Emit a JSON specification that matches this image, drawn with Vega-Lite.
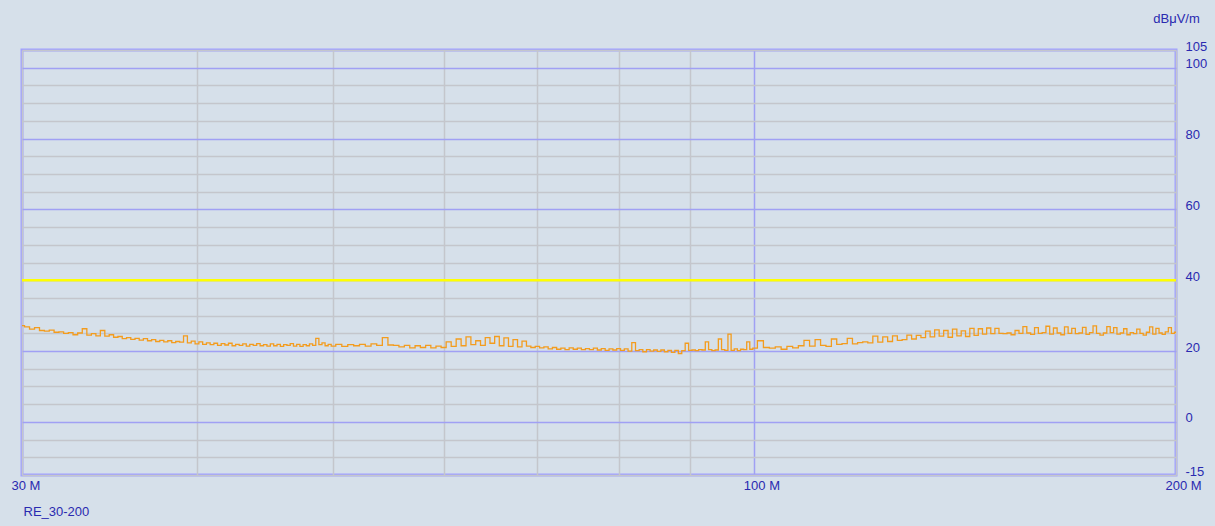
{
  "$schema": "https://vega.github.io/schema/vega-lite/v6.json",
  "width": 1154,
  "height": 425,
  "autosize": {"type": "none"},
  "padding": {"left": 22, "top": 50, "right": 39, "bottom": 51},
  "background": "#d6e0ea",
  "config": {
    "view": {"stroke": "#a0a0ff", "strokeWidth": 3, "fill": "#d6e0ea"},
    "font": "Liberation Sans"
  },
  "datasets": {
    "trace": [
      {"f":30.00,"v":27.2},{"f":30.25,"v":26.8},{"f":30.50,"v":26.2},{"f":30.75,"v":26.6},{"f":31.00,"v":25.8},{"f":31.25,"v":25.6},{"f":31.50,"v":25.9},{"f":31.75,"v":25.3},{"f":32.00,"v":25.4},{"f":32.25,"v":25.0},{"f":32.50,"v":25.2},{"f":32.75,"v":24.6},{"f":33.00,"v":25.1},{"f":33.25,"v":26.3},{"f":33.50,"v":24.5},{"f":33.75,"v":24.9},{"f":34.00,"v":24.3},{"f":34.25,"v":25.8},{"f":34.50,"v":24.2},{"f":34.75,"v":24.6},{"f":35.00,"v":23.9},{"f":35.25,"v":24.1},{"f":35.50,"v":23.5},{"f":35.75,"v":23.8},{"f":36.00,"v":23.3},{"f":36.25,"v":23.6},{"f":36.50,"v":23.1},{"f":36.75,"v":23.5},{"f":37.00,"v":22.9},{"f":37.25,"v":23.2},{"f":37.50,"v":22.7},{"f":37.75,"v":23.0},{"f":38.00,"v":22.6},{"f":38.25,"v":22.9},{"f":38.50,"v":22.4},{"f":38.75,"v":22.7},{"f":39.00,"v":22.5},{"f":39.25,"v":24.3},{"f":39.50,"v":22.3},{"f":39.75,"v":22.8},{"f":40.00,"v":22.0},{"f":40.25,"v":22.6},{"f":40.50,"v":21.9},{"f":40.75,"v":22.3},{"f":41.00,"v":21.8},{"f":41.25,"v":22.2},{"f":41.50,"v":21.6},{"f":41.75,"v":22.1},{"f":42.00,"v":21.7},{"f":42.25,"v":22.2},{"f":42.50,"v":21.5},{"f":42.75,"v":21.9},{"f":43.00,"v":21.6},{"f":43.25,"v":22.0},{"f":43.50,"v":21.4},{"f":43.75,"v":21.9},{"f":44.00,"v":21.6},{"f":44.25,"v":22.1},{"f":44.50,"v":21.5},{"f":44.75,"v":21.8},{"f":45.00,"v":21.4},{"f":45.25,"v":22.0},{"f":45.50,"v":21.5},{"f":45.75,"v":21.9},{"f":46.00,"v":21.3},{"f":46.25,"v":21.8},{"f":46.50,"v":21.6},{"f":46.75,"v":22.1},{"f":47.00,"v":21.4},{"f":47.25,"v":21.9},{"f":47.50,"v":21.3},{"f":47.75,"v":21.8},{"f":48.00,"v":21.5},{"f":48.25,"v":22.0},{"f":48.50,"v":21.6},{"f":48.75,"v":23.6},{"f":49.00,"v":21.8},{"f":49.25,"v":22.3},{"f":49.50,"v":21.5},{"f":49.75,"v":21.9},{"f":50.00,"v":21.4},
      {"f":50.5,"v":21.9},{"f":51.0,"v":21.3},{"f":51.5,"v":21.8},{"f":52.0,"v":21.5},{"f":52.5,"v":21.9},{"f":53.0,"v":21.4},{"f":53.5,"v":22.0},{"f":54.0,"v":21.6},{"f":54.5,"v":23.8},{"f":55.0,"v":21.7},{"f":55.5,"v":21.6},{"f":56.0,"v":21.2},{"f":56.5,"v":21.6},{"f":57.0,"v":20.9},{"f":57.5,"v":21.5},{"f":58.0,"v":21.0},{"f":58.5,"v":21.6},{"f":59.0,"v":20.9},{"f":59.5,"v":21.4},{"f":60.0,"v":21.0},{"f":60.5,"v":22.6},{"f":61.0,"v":21.3},{"f":61.5,"v":23.4},{"f":62.0,"v":21.5},{"f":62.5,"v":24.0},{"f":63.0,"v":21.8},{"f":63.5,"v":22.9},{"f":64.0,"v":21.6},{"f":64.5,"v":23.8},{"f":65.0,"v":22.2},{"f":65.5,"v":24.1},{"f":66.0,"v":21.5},{"f":66.5,"v":23.7},{"f":67.0,"v":21.3},{"f":67.5,"v":23.2},{"f":68.0,"v":21.2},{"f":68.5,"v":22.8},{"f":69.0,"v":21.4},{"f":69.5,"v":21.0},{"f":70.0,"v":21.3},{"f":70.5,"v":20.9},{"f":71.0,"v":21.2},{"f":71.5,"v":20.6},{"f":72.0,"v":21.0},{"f":72.5,"v":20.5},{"f":73.0,"v":20.8},{"f":73.5,"v":20.4},{"f":74.0,"v":20.9},{"f":74.5,"v":20.5},{"f":75.0,"v":20.8},{"f":75.5,"v":20.4},{"f":76.0,"v":20.7},{"f":76.5,"v":20.4},{"f":77.0,"v":20.8},{"f":77.5,"v":20.3},{"f":78.0,"v":20.7},{"f":78.5,"v":20.2},{"f":79.0,"v":20.6},{"f":79.5,"v":20.3},{"f":80.0,"v":20.7},{"f":80.5,"v":20.2},{"f":81.0,"v":20.6},{"f":81.5,"v":20.0},{"f":82.0,"v":22.4},{"f":82.5,"v":20.1},{"f":83.0,"v":20.4},{"f":83.5,"v":19.8},{"f":84.0,"v":20.4},{"f":84.5,"v":20.0},{"f":85.0,"v":20.3},{"f":85.5,"v":19.9},{"f":86.0,"v":20.3},{"f":86.5,"v":19.8},{"f":87.0,"v":20.2},{"f":87.5,"v":19.6},{"f":88.0,"v":20.2},{"f":88.5,"v":19.3},{"f":89.0,"v":20.1},{"f":89.5,"v":22.2},{"f":90.0,"v":20.2},{"f":90.5,"v":20.3},{"f":91.0,"v":20.1},{"f":91.5,"v":20.4},{"f":92.0,"v":20.3},{"f":92.5,"v":22.6},{"f":93.0,"v":20.4},{"f":93.5,"v":20.1},{"f":94.0,"v":20.3},{"f":94.5,"v":23.4},{"f":95.0,"v":20.4},{"f":95.5,"v":20.2},{"f":96.0,"v":24.8},{"f":96.5,"v":20.2},{"f":97.0,"v":20.6},{"f":97.5,"v":20.1},{"f":98.0,"v":20.5},{"f":98.5,"v":20.4},{"f":99.0,"v":22.6},{"f":99.5,"v":20.5},{"f":100.0,"v":20.8},
      {"f":101,"v":22.9},{"f":102,"v":21.0},{"f":103,"v":20.8},{"f":104,"v":21.2},{"f":105,"v":20.5},{"f":106,"v":21.3},{"f":107,"v":20.9},{"f":108,"v":21.5},{"f":109,"v":23.0},{"f":110,"v":21.4},{"f":111,"v":23.2},{"f":112,"v":21.6},{"f":113,"v":21.3},{"f":114,"v":23.4},{"f":115,"v":21.9},{"f":116,"v":22.1},{"f":117,"v":23.6},{"f":118,"v":22.0},{"f":119,"v":22.4},{"f":120,"v":22.6},{"f":121,"v":22.3},{"f":122,"v":24.2},{"f":123,"v":22.5},{"f":124,"v":24.0},{"f":125,"v":22.7},{"f":126,"v":24.3},{"f":127,"v":23.0},{"f":128,"v":23.2},{"f":129,"v":24.5},{"f":130,"v":23.4},{"f":131,"v":24.4},{"f":132,"v":23.8},{"f":133,"v":25.6},{"f":134,"v":24.0},{"f":135,"v":26.0},{"f":136,"v":24.2},{"f":137,"v":25.8},{"f":138,"v":23.9},{"f":139,"v":26.2},{"f":140,"v":24.3},{"f":141,"v":25.7},{"f":142,"v":24.1},{"f":143,"v":26.4},{"f":144,"v":24.4},{"f":145,"v":26.3},{"f":146,"v":24.8},{"f":147,"v":26.5},{"f":148,"v":24.9},{"f":149,"v":26.4},{"f":150,"v":25.0},{"f":151,"v":24.9},{"f":152,"v":25.1},{"f":153,"v":24.6},{"f":154,"v":25.8},{"f":155,"v":25.0},{"f":156,"v":26.9},{"f":157,"v":25.1},{"f":158,"v":24.7},{"f":159,"v":26.6},{"f":160,"v":25.0},{"f":161,"v":25.2},{"f":162,"v":27.0},{"f":163,"v":24.8},{"f":164,"v":26.5},{"f":165,"v":25.1},{"f":166,"v":24.6},{"f":167,"v":26.8},{"f":168,"v":25.0},{"f":169,"v":26.4},{"f":170,"v":24.9},{"f":171,"v":25.1},{"f":172,"v":26.7},{"f":173,"v":24.7},{"f":174,"v":25.2},{"f":175,"v":27.1},{"f":176,"v":25.0},{"f":177,"v":24.5},{"f":178,"v":25.1},{"f":179,"v":26.9},{"f":180,"v":25.2},{"f":181,"v":26.6},{"f":182,"v":24.8},{"f":183,"v":25.1},{"f":184,"v":26.3},{"f":185,"v":24.6},{"f":186,"v":25.2},{"f":187,"v":24.9},{"f":188,"v":26.2},{"f":189,"v":25.0},{"f":190,"v":24.5},{"f":191,"v":25.3},{"f":192,"v":26.8},{"f":193,"v":24.8},{"f":194,"v":26.4},{"f":195,"v":25.1},{"f":196,"v":24.7},{"f":197,"v":25.4},{"f":198,"v":26.6},{"f":199,"v":25.0},{"f":200,"v":25.3}
    ],
    "limit": [{"limit": 40}]
  },
  "layer": [
    {
      "data": {"name": "limit"},
      "mark": {"type": "rule", "color": "#ffff00", "strokeWidth": 2.5},
      "encoding": {
        "y": {"field": "limit", "type": "quantitative", "scale": {"domain": [-15, 105], "nice": false, "zero": false}}
      }
    },
    {
      "data": {"name": "trace"},
      "mark": {"type": "line", "color": "#f39c1e", "strokeWidth": 1.3, "interpolate": "step", "clip": true},
      "encoding": {
        "x": {
          "field": "f", "type": "quantitative",
          "scale": {"type": "log", "domain": [30, 200], "nice": false},
          "axis": {
            "orient": "bottom",
            "values": [30, 40, 50, 60, 70, 80, 90, 100, 200],
            "tickCount": 50,
            "labelExpr": "(datum.value == 30 || datum.value == 100 || datum.value == 200) ? datum.value + ' M' : ''",
            "labelAlign": "left", "labelOffset": -11, "labelBaseline": "middle", "labelPadding": 10,
            "labelFontSize": 13, "labelColor": "#2a2ab0", "labelFont": "Liberation Sans",
            "labelOverlap": false, "labelFlush": false,
            "ticks": false, "domain": false,
            "grid": true,
            "gridColor": {"condition": {"test": "datum.value == 100", "value": "#a0a0f4"}, "value": "#c4c6cc"},
            "gridWidth": 1.5,
            "title": "RE_30-200",
            "titleFontSize": 13, "titleFontWeight": "normal", "titleColor": "#2a2ab0", "titleFont": "Liberation Sans",
            "titleAnchor": "start", "titleAlign": "left", "titleX": 1, "titleY": 36, "titleBaseline": "middle"
          }
        },
        "y": {
          "field": "v", "type": "quantitative",
          "scale": {"domain": [-15, 105], "nice": false, "zero": false},
          "axis": {
            "orient": "right",
            "values": [-15, -10, -5, 0, 5, 10, 15, 20, 25, 30, 35, 40, 45, 50, 55, 60, 65, 70, 75, 80, 85, 90, 95, 100, 105],
            "tickCount": 100,
            "labelExpr": "(datum.value % 20 == 0 || datum.value == 105 || datum.value == -15) ? datum.value : ''",
            "labelAlign": "left", "labelBaseline": "middle", "labelPadding": 9, "labelOffset": -4,
            "labelFontSize": 13, "labelColor": "#2a2ab0", "labelFont": "Liberation Sans",
            "labelOverlap": false, "labelFlush": false,
            "ticks": false, "domain": false,
            "grid": true,
            "gridColor": {"condition": {"test": "datum.value % 20 == 0", "value": "#a0a0f4"}, "value": "#c4c6cc"},
            "gridWidth": 1.5,
            "title": "dBμV/m",
            "titleAngle": 0, "titleFontSize": 13, "titleFontWeight": "normal", "titleColor": "#2a2ab0", "titleFont": "Liberation Sans",
            "titleAlign": "center", "titleBaseline": "middle", "titleX": 0, "titleY": -32
          }
        }
      }
    }
  ]
}
